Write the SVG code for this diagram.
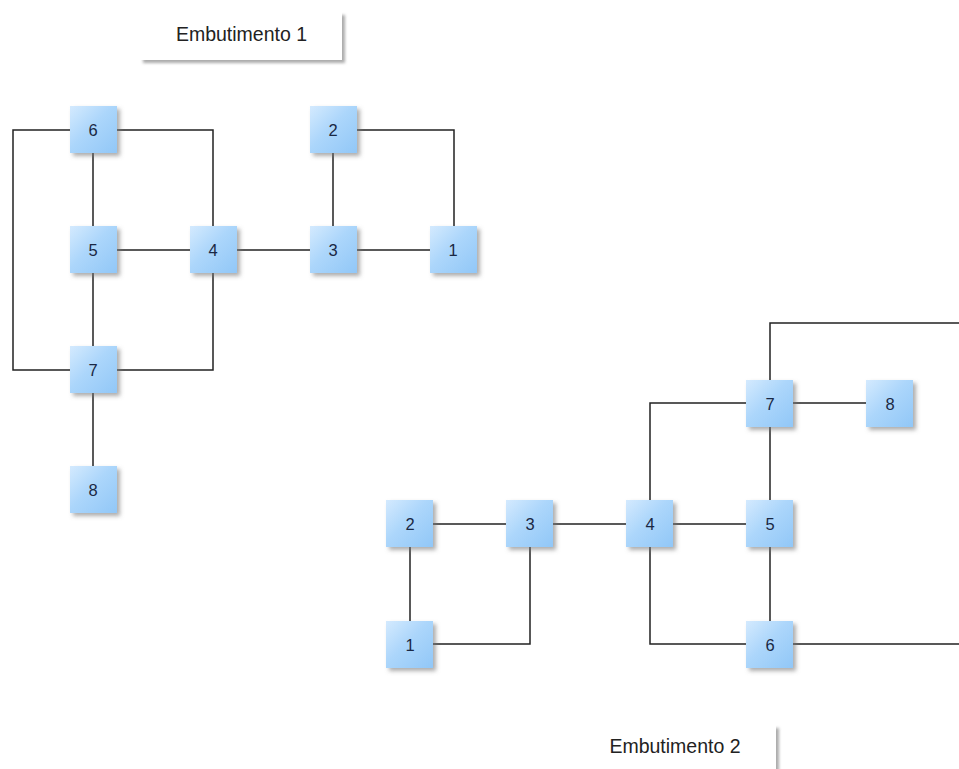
<svg xmlns="http://www.w3.org/2000/svg" width="959" height="769" viewBox="0 0 959 769">
<defs>
<linearGradient id="ng" x1="0" y1="0" x2="1" y2="1">
<stop offset="0" stop-color="#d4eafe"/>
<stop offset="0.45" stop-color="#acd6fb"/>
<stop offset="1" stop-color="#91c7f7"/>
</linearGradient>
<filter id="sh" x="-20%" y="-20%" width="150%" height="150%">
<feDropShadow dx="3" dy="3" stdDeviation="2" flood-color="#777" flood-opacity="0.6"/>
</filter>
<filter id="lsh" x="-10%" y="-20%" width="120%" height="150%">
<feDropShadow dx="3" dy="3" stdDeviation="1.5" flood-color="#888" flood-opacity="0.7"/>
</filter>
</defs>
<style>
.e{fill:none;stroke:#222;stroke-width:1.5}
.n rect{fill:url(#ng);filter:url(#sh)}
.n text{font-family:"Liberation Sans",Arial,sans-serif;font-size:16.5px;fill:#1a2844;text-anchor:middle}
.l rect{fill:#fff;filter:url(#lsh)}
.l text{font-family:"Liberation Sans",Arial,sans-serif;font-size:19.5px;fill:#222;text-anchor:middle}
</style>
<rect width="959" height="769" fill="#fff"/>
<g id="connectors">
<path class="e" d="M93 130V490"/>
<path class="e" d="M93 250H453"/>
<path class="e" d="M333 130V250"/>
<path class="e" d="M93 130H213V250"/>
<path class="e" d="M333 130H454V250"/>
<path class="e" d="M93 370H213V250"/>
<path class="e" d="M93 130H13V370H93"/>
<path class="e" d="M410 524H770"/>
<path class="e" d="M410 524V644"/>
<path class="e" d="M410 644H530V524"/>
<path class="e" d="M650 524V403H770"/>
<path class="e" d="M650 524V644H770"/>
<path class="e" d="M770 403V644"/>
<path class="e" d="M770 403H890"/>
<path class="e" d="M770 403V323H975V644H770"/>
</g>
<g id="label1" class="l"><rect x="140" y="12" width="202" height="48"/><text x="241.5" y="41">Embutimento 1</text></g>
<g id="label2" class="l"><rect x="572" y="725" width="204" height="50"/><text x="675" y="753">Embutimento 2</text></g>
<g id="a6" class="n"><rect x="70" y="106" width="47" height="47"/><text x="93" y="136">6</text></g>
<g id="a5" class="n"><rect x="70" y="226" width="47" height="47"/><text x="93" y="256">5</text></g>
<g id="a7" class="n"><rect x="70" y="346" width="47" height="47"/><text x="93" y="376">7</text></g>
<g id="a8" class="n"><rect x="70" y="466" width="47" height="47"/><text x="93" y="496">8</text></g>
<g id="a4" class="n"><rect x="190" y="226" width="47" height="47"/><text x="213" y="256">4</text></g>
<g id="a3" class="n"><rect x="310" y="226" width="47" height="47"/><text x="333" y="256">3</text></g>
<g id="a2" class="n"><rect x="310" y="106" width="47" height="47"/><text x="333" y="136">2</text></g>
<g id="a1" class="n"><rect x="430" y="226" width="47" height="47"/><text x="453" y="256">1</text></g>
<g id="b2" class="n"><rect x="386" y="500" width="47" height="47"/><text x="410" y="530">2</text></g>
<g id="b3" class="n"><rect x="506" y="500" width="47" height="47"/><text x="530" y="530">3</text></g>
<g id="b4" class="n"><rect x="626" y="500" width="47" height="47"/><text x="650" y="530">4</text></g>
<g id="b5" class="n"><rect x="746" y="500" width="47" height="47"/><text x="770" y="530">5</text></g>
<g id="b7" class="n"><rect x="746" y="380" width="47" height="47"/><text x="770" y="410">7</text></g>
<g id="b8" class="n"><rect x="866" y="380" width="47" height="47"/><text x="890" y="410">8</text></g>
<g id="b6" class="n"><rect x="746" y="621" width="47" height="47"/><text x="770" y="651">6</text></g>
<g id="b1" class="n"><rect x="386" y="621" width="47" height="47"/><text x="410" y="651">1</text></g>
</svg>
